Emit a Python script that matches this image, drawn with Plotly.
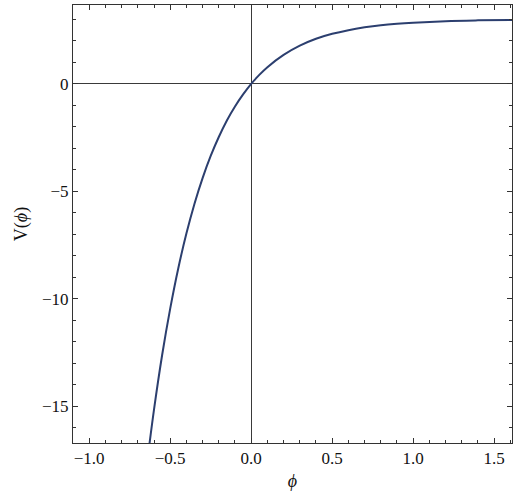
import plotly.graph_objects as go

# values
phi = [-0.64, -0.60, -0.55, -0.50, -0.45, -0.40, -0.35, -0.30, -0.25, -0.20,
       -0.15, -0.10, -0.05, 0.0, 0.05, 0.10, 0.20, 0.30, 0.40, 0.50,
       0.60, 0.70, 0.80, 0.90, 1.00, 1.20, 1.40, 1.61]
V = [-17.46, -15.15, -12.62, -10.45, -8.57, -6.96, -5.57, -4.38, -3.35, -2.47,
     -1.70, -1.05, -0.49, 0.0, 0.42, 0.78, 1.35, 1.78, 2.10, 2.33,
     2.50, 2.63, 2.73, 2.80, 2.85, 2.92, 2.955, 2.976]

x_ticks = [-1.0, -0.5, 0.0, 0.5, 1.0, 1.5]
y_ticks = [-15, -10, -5, 0]

serif = 'Liberation Serif, Times New Roman, serif'

fig = go.Figure()
fig.add_trace(go.Scatter(x=phi, y=V, mode='lines', line_shape='spline',
                         line=dict(color='#2c3f6f', width=2), showlegend=False))

axis_common = dict(showgrid=False, showline=True, linecolor='#333', linewidth=1,
                   mirror='ticks', ticks='inside', ticklen=5, tickcolor='#333',
                   zeroline=True, zerolinecolor='#3a3a3a', zerolinewidth=1,
                   automargin=False,
                   tickfont=dict(family=serif, size=17, color='#111'))

fig.update_xaxes(range=[-1.1, 1.61], tickvals=x_ticks,
                 ticktext=['−1.0', '−0.5', '0.0', '0.5', '1.0', '1.5'],
                 minor=dict(dtick=0.1, tick0=0, ticks='inside', ticklen=3, tickcolor='#333'),
                 title=dict(text='<i>ϕ</i>', font=dict(family=serif, size=18, color='#111'),
                            standoff=6),
                 **axis_common)
fig.update_yaxes(range=[-16.7, 3.67], tickvals=y_ticks,
                 minor=dict(dtick=1, tick0=0, ticks='inside', ticklen=3, tickcolor='#333'),
                 title=dict(text='V(<i>ϕ</i>)', font=dict(family=serif, size=18, color='#111'),
                            standoff=9),
                 **axis_common)

fig.update_layout(width=517, height=496, margin=dict(l=73, r=5, t=5, b=53),
                  plot_bgcolor='white', paper_bgcolor='white')

# drop the page's default body margin so the figure sits at the window's corner
fig.write_html("out.html", config={'displayModeBar': False},
               post_script="document.body.style.margin='0px';")
